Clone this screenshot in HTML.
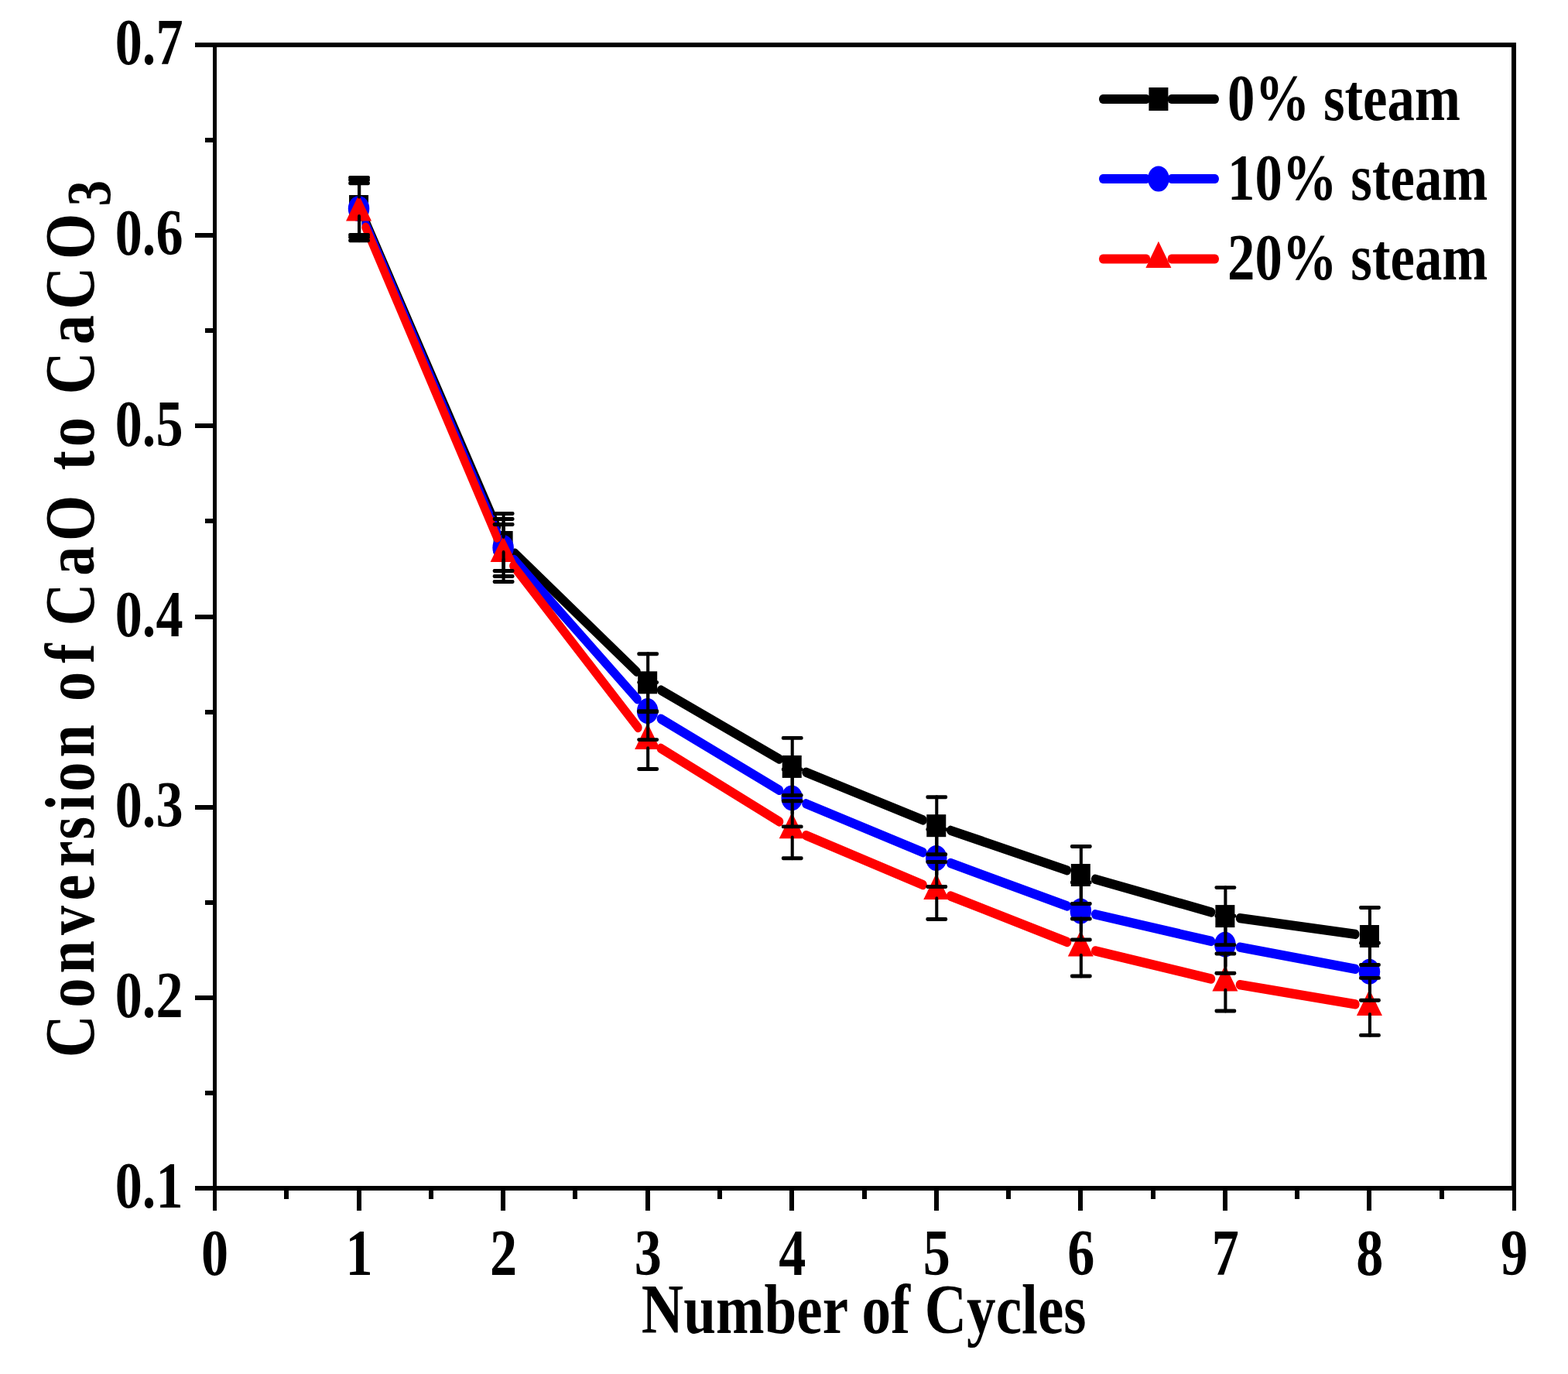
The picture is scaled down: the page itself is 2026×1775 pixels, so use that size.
<!DOCTYPE html>
<html lang="en"><head><meta charset="utf-8"><title>Conversion of CaO to CaCO3 vs Number of Cycles</title>
<style>html,body{margin:0;padding:0;background:#fff}body{width:2026px;height:1775px;overflow:hidden}svg{display:block}text{font-family:"Liberation Serif","DejaVu Serif",serif;font-weight:bold;fill:#000}</style></head><body>
<svg width="2026" height="1775" viewBox="0 0 2026 1775">
<rect x="0" y="0" width="2026" height="1775" fill="#fff"/>
<g transform="scale(0.833333,1)">
<g stroke="#000000" stroke-width="12.4" stroke-linecap="round" fill="none">
<line x1="567.14" y1="286.41" x2="770.46" y2="680.59"/>
<line x1="798.14" y1="714.60" x2="987.19" y2="867.70"/>
<line x1="1024.75" y1="891.58" x2="1208.31" y2="980.62"/>
<line x1="1249.67" y1="997.63" x2="1431.13" y2="1059.47"/>
<line x1="1473.88" y1="1072.84" x2="1654.66" y2="1124.36"/>
<line x1="1698.00" y1="1135.67" x2="1878.27" y2="1178.43"/>
<line x1="1922.32" y1="1186.17" x2="2101.68" y2="1206.93"/>
</g>
<g>
<rect x="541.27" y="252.00" width="30.00" height="29.00" fill="#000"/>
<rect x="765.13" y="686.00" width="30.00" height="29.00" fill="#000"/>
<rect x="989.00" y="867.30" width="30.00" height="29.00" fill="#000"/>
<rect x="1212.87" y="975.90" width="30.00" height="29.00" fill="#000"/>
<rect x="1436.73" y="1052.20" width="30.00" height="29.00" fill="#000"/>
<rect x="1660.60" y="1116.00" width="30.00" height="29.00" fill="#000"/>
<rect x="1884.47" y="1169.10" width="30.00" height="29.00" fill="#000"/>
<rect x="2108.33" y="1195.00" width="30.00" height="29.00" fill="#000"/>
</g>
<g stroke="#0000ff" stroke-width="12.4" stroke-linecap="round" fill="none">
<line x1="567.06" y1="289.45" x2="770.54" y2="687.55"/>
<line x1="797.03" y1="722.87" x2="988.30" y2="903.23"/>
<line x1="1024.62" y1="928.64" x2="1208.44" y2="1020.86"/>
<line x1="1249.63" y1="1038.24" x2="1431.17" y2="1101.16"/>
<line x1="1473.75" y1="1115.05" x2="1654.78" y2="1170.45"/>
<line x1="1698.19" y1="1181.24" x2="1878.07" y2="1215.96"/>
<line x1="1922.20" y1="1223.67" x2="2101.80" y2="1251.83"/>
</g>
<g>
<circle cx="556.27" cy="269.50" r="16.50" fill="#00f"/>
<circle cx="780.13" cy="707.50" r="16.50" fill="#00f"/>
<circle cx="1004.00" cy="918.60" r="16.50" fill="#00f"/>
<circle cx="1227.87" cy="1030.90" r="16.50" fill="#00f"/>
<circle cx="1451.73" cy="1108.50" r="16.50" fill="#00f"/>
<circle cx="1675.60" cy="1177.00" r="16.50" fill="#00f"/>
<circle cx="1899.47" cy="1220.20" r="16.50" fill="#00f"/>
<circle cx="2123.33" cy="1255.30" r="16.50" fill="#00f"/>
</g>
<g stroke="#ff0000" stroke-width="12.4" stroke-linecap="round" fill="none">
<line x1="567.01" y1="293.77" x2="770.59" y2="694.53"/>
<line x1="795.94" y1="730.94" x2="989.39" y2="940.06"/>
<line x1="1024.52" y1="966.75" x2="1208.55" y2="1061.45"/>
<line x1="1249.60" y1="1079.14" x2="1431.20" y2="1143.06"/>
<line x1="1473.62" y1="1157.49" x2="1654.92" y2="1217.01"/>
<line x1="1698.16" y1="1228.41" x2="1878.11" y2="1264.59"/>
<line x1="1922.25" y1="1272.11" x2="2101.75" y2="1297.29"/>
</g>
<g>
<polygon points="556.27,251.50 576.07,285.40 536.47,285.40" fill="#f00"/>
<polygon points="780.13,692.20 799.93,726.10 760.33,726.10" fill="#f00"/>
<polygon points="1004.00,934.20 1023.80,968.10 984.20,968.10" fill="#f00"/>
<polygon points="1227.87,1049.40 1247.67,1083.30 1208.07,1083.30" fill="#f00"/>
<polygon points="1451.73,1128.20 1471.53,1162.10 1431.93,1162.10" fill="#f00"/>
<polygon points="1675.60,1201.70 1695.40,1235.60 1655.80,1235.60" fill="#f00"/>
<polygon points="1899.47,1246.70 1919.27,1280.60 1879.67,1280.60" fill="#f00"/>
<polygon points="2123.33,1278.10 2143.13,1312.00 2103.53,1312.00" fill="#f00"/>
</g>
<g stroke="#000" stroke-width="4.9" stroke-linecap="round" fill="none">
<line x1="542.58" y1="229.50" x2="571.16" y2="229.50"/>
<line x1="542.58" y1="303.50" x2="571.16" y2="303.50"/>
<line x1="556.87" y1="229.50" x2="556.87" y2="253.55"/>
<line x1="556.87" y1="279.45" x2="556.87" y2="303.50"/>
<line x1="766.44" y1="663.50" x2="795.02" y2="663.50"/>
<line x1="766.44" y1="737.50" x2="795.02" y2="737.50"/>
<line x1="780.73" y1="663.50" x2="780.73" y2="687.55"/>
<line x1="780.73" y1="713.45" x2="780.73" y2="737.50"/>
<line x1="990.31" y1="844.80" x2="1018.89" y2="844.80"/>
<line x1="990.31" y1="918.80" x2="1018.89" y2="918.80"/>
<line x1="1004.60" y1="844.80" x2="1004.60" y2="868.85"/>
<line x1="1004.60" y1="894.75" x2="1004.60" y2="918.80"/>
<line x1="1214.18" y1="953.40" x2="1242.76" y2="953.40"/>
<line x1="1214.18" y1="1027.40" x2="1242.76" y2="1027.40"/>
<line x1="1228.47" y1="953.40" x2="1228.47" y2="977.45"/>
<line x1="1228.47" y1="1003.35" x2="1228.47" y2="1027.40"/>
<line x1="1438.04" y1="1029.70" x2="1466.62" y2="1029.70"/>
<line x1="1438.04" y1="1103.70" x2="1466.62" y2="1103.70"/>
<line x1="1452.33" y1="1029.70" x2="1452.33" y2="1053.75"/>
<line x1="1452.33" y1="1079.65" x2="1452.33" y2="1103.70"/>
<line x1="1661.91" y1="1093.50" x2="1690.49" y2="1093.50"/>
<line x1="1661.91" y1="1167.50" x2="1690.49" y2="1167.50"/>
<line x1="1676.20" y1="1093.50" x2="1676.20" y2="1117.55"/>
<line x1="1676.20" y1="1143.45" x2="1676.20" y2="1167.50"/>
<line x1="1885.78" y1="1146.60" x2="1914.36" y2="1146.60"/>
<line x1="1885.78" y1="1220.60" x2="1914.36" y2="1220.60"/>
<line x1="1900.07" y1="1146.60" x2="1900.07" y2="1170.65"/>
<line x1="1900.07" y1="1196.55" x2="1900.07" y2="1220.60"/>
<line x1="2109.64" y1="1172.50" x2="2138.22" y2="1172.50"/>
<line x1="2109.64" y1="1246.50" x2="2138.22" y2="1246.50"/>
<line x1="2123.93" y1="1172.50" x2="2123.93" y2="1196.55"/>
<line x1="2123.93" y1="1222.45" x2="2123.93" y2="1246.50"/>
<line x1="542.58" y1="232.50" x2="571.16" y2="232.50"/>
<line x1="542.58" y1="306.50" x2="571.16" y2="306.50"/>
<line x1="556.87" y1="232.50" x2="556.87" y2="254.25"/>
<line x1="556.87" y1="284.75" x2="556.87" y2="306.50"/>
<line x1="766.44" y1="670.50" x2="795.02" y2="670.50"/>
<line x1="766.44" y1="744.50" x2="795.02" y2="744.50"/>
<line x1="780.73" y1="670.50" x2="780.73" y2="692.25"/>
<line x1="780.73" y1="722.75" x2="780.73" y2="744.50"/>
<line x1="990.31" y1="881.60" x2="1018.89" y2="881.60"/>
<line x1="990.31" y1="955.60" x2="1018.89" y2="955.60"/>
<line x1="1004.60" y1="881.60" x2="1004.60" y2="903.35"/>
<line x1="1004.60" y1="933.85" x2="1004.60" y2="955.60"/>
<line x1="1214.18" y1="993.90" x2="1242.76" y2="993.90"/>
<line x1="1214.18" y1="1067.90" x2="1242.76" y2="1067.90"/>
<line x1="1228.47" y1="993.90" x2="1228.47" y2="1015.65"/>
<line x1="1228.47" y1="1046.15" x2="1228.47" y2="1067.90"/>
<line x1="1438.04" y1="1071.50" x2="1466.62" y2="1071.50"/>
<line x1="1438.04" y1="1145.50" x2="1466.62" y2="1145.50"/>
<line x1="1452.33" y1="1071.50" x2="1452.33" y2="1093.25"/>
<line x1="1452.33" y1="1123.75" x2="1452.33" y2="1145.50"/>
<line x1="1661.91" y1="1140.00" x2="1690.49" y2="1140.00"/>
<line x1="1661.91" y1="1214.00" x2="1690.49" y2="1214.00"/>
<line x1="1676.20" y1="1140.00" x2="1676.20" y2="1161.75"/>
<line x1="1676.20" y1="1192.25" x2="1676.20" y2="1214.00"/>
<line x1="1885.78" y1="1183.20" x2="1914.36" y2="1183.20"/>
<line x1="1885.78" y1="1257.20" x2="1914.36" y2="1257.20"/>
<line x1="1900.07" y1="1183.20" x2="1900.07" y2="1204.95"/>
<line x1="1900.07" y1="1235.45" x2="1900.07" y2="1257.20"/>
<line x1="2109.64" y1="1218.30" x2="2138.22" y2="1218.30"/>
<line x1="2109.64" y1="1292.30" x2="2138.22" y2="1292.30"/>
<line x1="2123.93" y1="1218.30" x2="2123.93" y2="1240.05"/>
<line x1="2123.93" y1="1270.55" x2="2123.93" y2="1292.30"/>
<line x1="542.58" y1="236.80" x2="571.16" y2="236.80"/>
<line x1="542.58" y1="310.80" x2="571.16" y2="310.80"/>
<line x1="556.87" y1="236.80" x2="556.87" y2="252.85"/>
<line x1="556.87" y1="283.95" x2="556.87" y2="310.80"/>
<line x1="766.44" y1="677.50" x2="795.02" y2="677.50"/>
<line x1="766.44" y1="751.50" x2="795.02" y2="751.50"/>
<line x1="780.73" y1="677.50" x2="780.73" y2="693.55"/>
<line x1="780.73" y1="724.65" x2="780.73" y2="751.50"/>
<line x1="990.31" y1="919.50" x2="1018.89" y2="919.50"/>
<line x1="990.31" y1="993.50" x2="1018.89" y2="993.50"/>
<line x1="1004.60" y1="919.50" x2="1004.60" y2="935.55"/>
<line x1="1004.60" y1="966.65" x2="1004.60" y2="993.50"/>
<line x1="1214.18" y1="1034.70" x2="1242.76" y2="1034.70"/>
<line x1="1214.18" y1="1108.70" x2="1242.76" y2="1108.70"/>
<line x1="1228.47" y1="1034.70" x2="1228.47" y2="1050.75"/>
<line x1="1228.47" y1="1081.85" x2="1228.47" y2="1108.70"/>
<line x1="1438.04" y1="1113.50" x2="1466.62" y2="1113.50"/>
<line x1="1438.04" y1="1187.50" x2="1466.62" y2="1187.50"/>
<line x1="1452.33" y1="1113.50" x2="1452.33" y2="1129.55"/>
<line x1="1452.33" y1="1160.65" x2="1452.33" y2="1187.50"/>
<line x1="1661.91" y1="1187.00" x2="1690.49" y2="1187.00"/>
<line x1="1661.91" y1="1261.00" x2="1690.49" y2="1261.00"/>
<line x1="1676.20" y1="1187.00" x2="1676.20" y2="1203.05"/>
<line x1="1676.20" y1="1234.15" x2="1676.20" y2="1261.00"/>
<line x1="1885.78" y1="1232.00" x2="1914.36" y2="1232.00"/>
<line x1="1885.78" y1="1306.00" x2="1914.36" y2="1306.00"/>
<line x1="1900.07" y1="1232.00" x2="1900.07" y2="1248.05"/>
<line x1="1900.07" y1="1279.15" x2="1900.07" y2="1306.00"/>
<line x1="2109.64" y1="1263.40" x2="2138.22" y2="1263.40"/>
<line x1="2109.64" y1="1337.40" x2="2138.22" y2="1337.40"/>
<line x1="2123.93" y1="1263.40" x2="2123.93" y2="1279.45"/>
<line x1="2123.93" y1="1310.55" x2="2123.93" y2="1337.40"/>
</g>
<g stroke="#000000" stroke-width="12.0" stroke-linecap="round" fill="none">
<line x1="1710.00" y1="128.00" x2="1777.48" y2="128.00"/>
<line x1="1816.28" y1="128.00" x2="1884.00" y2="128.00"/>
</g>
<rect x="1781.28" y="113.00" width="30.00" height="30.00" fill="#000"/>
<g stroke="#0000ff" stroke-width="12.0" stroke-linecap="round" fill="none">
<line x1="1710.00" y1="231.00" x2="1777.48" y2="231.00"/>
<line x1="1816.28" y1="231.00" x2="1884.00" y2="231.00"/>
</g>
<circle cx="1796.28" cy="231.00" r="16.50" fill="#00f"/>
<g stroke="#ff0000" stroke-width="12.0" stroke-linecap="round" fill="none">
<line x1="1710.00" y1="334.60" x2="1777.48" y2="334.60"/>
<line x1="1816.28" y1="334.60" x2="1884.00" y2="334.60"/>
</g>
<polygon points="1796.28,311.80 1816.08,345.90 1776.48,345.90" fill="#f00"/>
</g>
<g fill="#000" shape-rendering="crispEdges">
<rect x="275" y="55" width="5" height="1483"/>
<rect x="1953" y="55" width="6" height="1483"/>
<rect x="275" y="55" width="1684" height="6"/>
<rect x="275" y="1532" width="1684" height="6"/>
<rect x="252" y="55" width="24" height="6"/>
<rect x="265" y="178" width="11" height="6"/>
<rect x="252" y="301" width="24" height="6"/>
<rect x="265" y="424" width="11" height="6"/>
<rect x="252" y="547" width="24" height="6"/>
<rect x="265" y="670" width="11" height="6"/>
<rect x="252" y="794" width="24" height="6"/>
<rect x="265" y="917" width="11" height="6"/>
<rect x="252" y="1040" width="24" height="6"/>
<rect x="265" y="1163" width="11" height="6"/>
<rect x="252" y="1286" width="24" height="6"/>
<rect x="265" y="1409" width="11" height="6"/>
<rect x="252" y="1532" width="24" height="6"/>
<rect x="275" y="1537" width="5" height="27"/>
<rect x="367" y="1537" width="6" height="12"/>
<rect x="461" y="1537" width="6" height="27"/>
<rect x="554" y="1537" width="6" height="12"/>
<rect x="647" y="1537" width="6" height="27"/>
<rect x="740" y="1537" width="6" height="12"/>
<rect x="834" y="1537" width="6" height="27"/>
<rect x="927" y="1537" width="6" height="12"/>
<rect x="1020" y="1537" width="6" height="27"/>
<rect x="1114" y="1537" width="6" height="12"/>
<rect x="1207" y="1537" width="6" height="27"/>
<rect x="1300" y="1537" width="6" height="12"/>
<rect x="1393" y="1537" width="6" height="27"/>
<rect x="1487" y="1537" width="6" height="12"/>
<rect x="1580" y="1537" width="6" height="27"/>
<rect x="1673" y="1537" width="6" height="12"/>
<rect x="1766" y="1537" width="6" height="27"/>
<rect x="1860" y="1537" width="6" height="12"/>
<rect x="1954" y="1537" width="5" height="27"/>
</g>
<g font-size="85.0" text-anchor="end">
<text transform="translate(236.5,83.2) scale(0.8260,1)">0.7</text>
<text transform="translate(236.5,329.4) scale(0.8260,1)">0.6</text>
<text transform="translate(236.5,575.5) scale(0.8260,1)">0.5</text>
<text transform="translate(236.5,821.7) scale(0.8260,1)">0.4</text>
<text transform="translate(236.5,1067.9) scale(0.8260,1)">0.3</text>
<text transform="translate(236.5,1314.0) scale(0.8260,1)">0.2</text>
<text transform="translate(236.5,1560.2) scale(0.8260,1)">0.1</text>
</g>
<g font-size="85.0" text-anchor="middle">
<text transform="translate(277.5,1647.0) scale(0.8260,1)">0</text>
<text transform="translate(464.1,1647.0) scale(0.8260,1)">1</text>
<text transform="translate(650.6,1647.0) scale(0.8260,1)">2</text>
<text transform="translate(837.2,1647.0) scale(0.8260,1)">3</text>
<text transform="translate(1023.7,1647.0) scale(0.8260,1)">4</text>
<text transform="translate(1210.3,1647.0) scale(0.8260,1)">5</text>
<text transform="translate(1396.8,1647.0) scale(0.8260,1)">6</text>
<text transform="translate(1583.4,1647.0) scale(0.8260,1)">7</text>
<text transform="translate(1769.9,1647.0) scale(0.8260,1)">8</text>
<text transform="translate(1956.5,1647.0) scale(0.8260,1)">9</text>
</g>
<g font-size="85.0">
<text transform="translate(1586.0,155.2) scale(0.8332,1)">0% steam</text>
<text transform="translate(1586.0,258.0) scale(0.8332,1)">10% steam</text>
<text transform="translate(1586.0,360.8) scale(0.8332,1)">20% steam</text>
</g>
<text font-size="90.3" text-anchor="middle" transform="translate(1116.2,1722.0) scale(0.8323,1)">Number of Cycles</text>
<g transform="translate(121.4,1366.3) rotate(-90) scale(0.8400,1)">
<text font-size="90.6" x="0.00 76.74 129.50 188.41 241.35 293.33 335.37 379.51 409.06 461.82 521.28 548.11 606.51 642.11 663.93 741.03 794.39 877.55 903.48 939.42 992.87 1020.00 1096.80 1150.77 1227.79" y="0">Conversion of CaO to CaCO<tspan font-size="80.0" x="1309.26" dy="20.9">3</tspan></text>
</g>
</svg></body></html>
